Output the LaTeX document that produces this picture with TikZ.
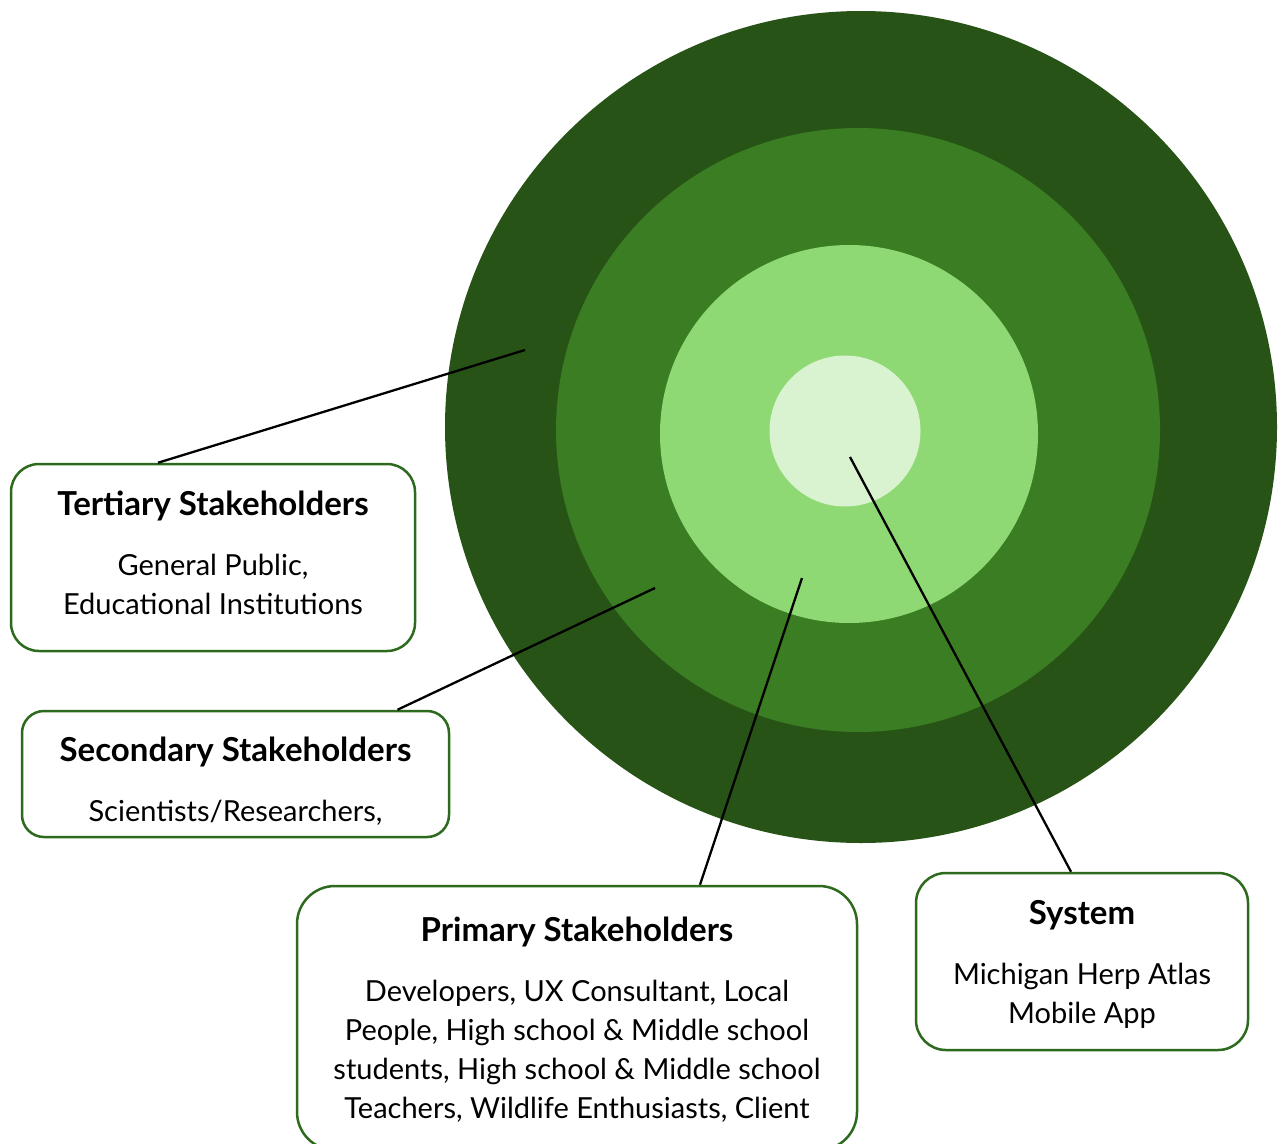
\documentclass[tikz,border=0pt]{standalone}
\usepackage{fontspec}
\setmainfont{Lato}
\usetikzlibrary{positioning}
\definecolor{ringdark}{HTML}{275317}
\definecolor{ringmid}{HTML}{3A7D22}
\definecolor{ringlight}{HTML}{8ED973}
\definecolor{ringpale}{HTML}{D9F2D0}
\definecolor{boxline}{HTML}{2E6A1E}
\newcommand{\boxtitle}[1]{\textbf{\fontsize{33}{39}\selectfont #1}\\[21pt]}

\begin{document}
\begin{tikzpicture}[x=1pt, y=-1pt, every node/.style={font=\fontsize{29}{39}\selectfont, align=center},
  ring/.style={circle, inner sep=0pt},
  box/.style={rectangle, draw=boxline, line width=2.5pt, fill=white, rounded corners=28pt, inner sep=0pt},
  link/.style={draw=black, line width=2.3pt}]
				\useasboundingbox (0,0) rectangle (1279,1143);
				\fill[white] (0,0) rectangle (1279,1143);
				
				% rings
				\node[ring, fill=ringdark, minimum size=832pt] (outer) at (861,427) {};
				\node[ring, fill=ringmid, minimum size=604pt] (second) at (858,430) {};
				\node[ring, fill=ringlight, minimum size=378pt] (third) at (849,434) {};
				\node[ring, fill=ringpale, minimum size=151pt] (core) at (845,431) {};
				
				% ends of the lines inside the rings
				\coordinate (tertiary end) at (525,350);
				\coordinate (secondary end) at (655,588);
				\coordinate (primary end) at (802,578);
				\coordinate (system end) at (850,457);
				
				% boxes
				\node[box, minimum width=404pt, minimum height=187pt] (tertiary) at (213,557.5)
					{\boxtitle{Tertiary Stakeholders}General Public,\\Educational Institutions\rule[-9pt]{0pt}{9pt}};
				\node[box, rounded corners=22pt, minimum width=427pt, minimum height=126pt] (secondary) at (235.5,774)
					{\rule{0pt}{38pt}\boxtitle{Secondary Stakeholders}Scientists/Researchers,};
				\node[box, rounded corners=38pt, minimum width=560pt, minimum height=264pt] (primary) at (577,1018)
					{\rule{0pt}{27pt}\boxtitle{Primary Stakeholders}Developers, UX Consultant, Local\\People, High school \& Middle school\\students, High school \& Middle school\\Teachers, Wildlife Enthusiasts, Client};
				\node[box, rounded corners=30pt, minimum width=332pt, minimum height=177pt] (system) at (1082,961.5)
					{\rule{0pt}{29pt}\boxtitle{System}Michigan Herp Atlas\\Mobile App};
				
				% connectors
				\draw[link] ([xshift=-55pt]tertiary.north) -- (tertiary end);
				\draw[link] ([xshift=162pt]secondary.north) -- (secondary end);
				\draw[link] ([xshift=123pt]primary.north) -- (primary end);
				\draw[link] ([xshift=-11pt]system.north) -- (system end);
			\end{tikzpicture}
\end{document}
